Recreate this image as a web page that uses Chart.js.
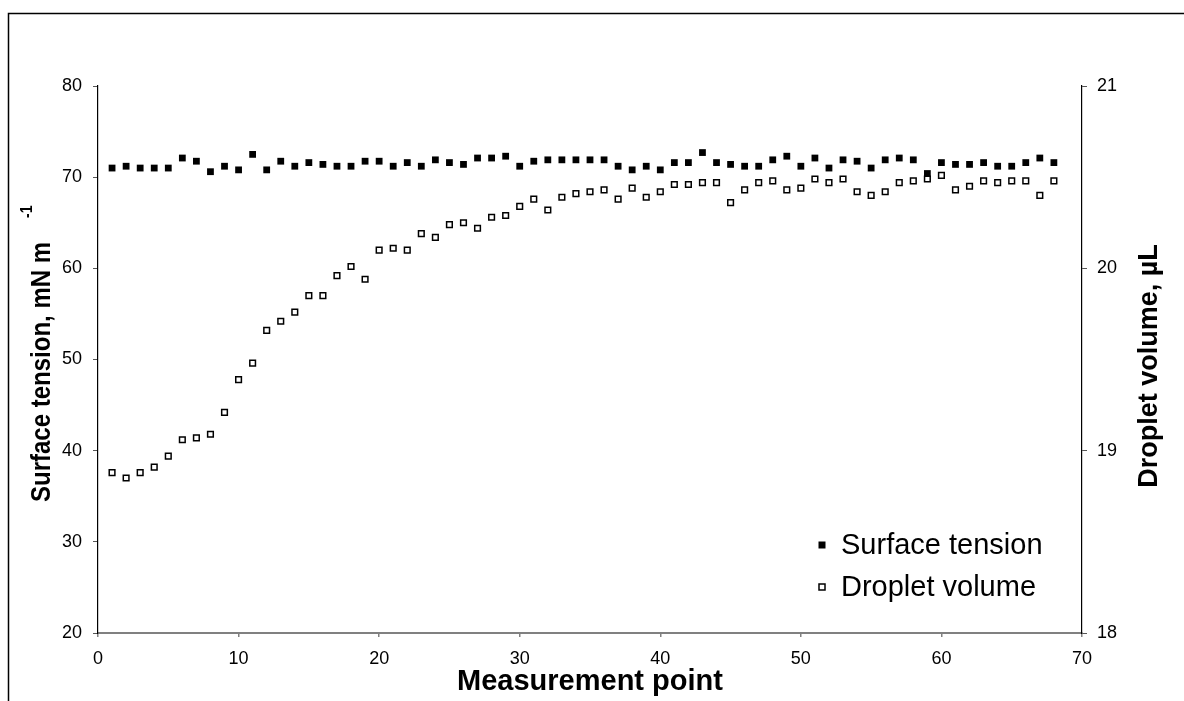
<!DOCTYPE html>
<html>
<head>
<meta charset="utf-8">
<script src="https://cdn.jsdelivr.net/npm/chart.js@4.4.1/dist/chart.umd.min.js"></script>
<style>
  html, body { margin: 0; padding: 0; background: #fff; }
  #wrap { width: 1184px; height: 701px; }
</style>
</head>
<body>
<div id="wrap"><canvas id="grafico" width="1184" height="701"></canvas></div>
<script>
// measurement points (x categories)
const pointNumbers = [1, 2, 3, 4, 5, 6, 7, 8, 9, 10, 11, 12, 13, 14, 15, 16, 17, 18, 19, 20,
    21, 22, 23, 24, 25, 26, 27, 28, 29, 30, 31, 32, 33, 34, 35, 36, 37, 38, 39, 40,
    41, 42, 43, 44, 45, 46, 47, 48, 49, 50, 51, 52, 53, 54, 55, 56, 57, 58, 59, 60,
    61, 62, 63, 64, 65, 66, 67, 68];

// surface tension, mN m-1 (left axis)
const surfaceTension = [71.0, 71.2, 71.0, 71.0, 71.0, 72.1, 71.75, 70.6, 71.2, 70.8,
    72.5, 70.8, 71.75, 71.2, 71.6, 71.4, 71.2, 71.2, 71.75, 71.75,
    71.2, 71.6, 71.2, 71.9, 71.6, 71.4, 72.1, 72.1, 72.3, 71.2,
    71.75, 71.9, 71.9, 71.9, 71.9, 71.9, 71.2, 70.8, 71.2, 70.8,
    71.6, 71.6, 72.7, 71.6, 71.4, 71.2, 71.2, 71.9, 72.3, 71.2,
    72.1, 71.0, 71.9, 71.75, 71.0, 71.9, 72.1, 71.9, 70.4, 71.6,
    71.4, 71.4, 71.6, 71.2, 71.2, 71.6, 72.1, 71.6];

// droplet volume, uL (right axis)
const dropletVolume = [18.88, 18.85, 18.88, 18.91, 18.97, 19.06, 19.07, 19.09, 19.21, 19.39,
    19.48, 19.66, 19.71, 19.76, 19.85, 19.85, 19.96, 20.01, 19.94, 20.10,
    20.11, 20.10, 20.19, 20.17, 20.24, 20.25, 20.22, 20.28, 20.29, 20.34,
    20.38, 20.32, 20.39, 20.41, 20.42, 20.43, 20.38, 20.44, 20.39, 20.42,
    20.46, 20.46, 20.47, 20.47, 20.36, 20.43, 20.47, 20.48, 20.43, 20.44,
    20.49, 20.47, 20.49, 20.42, 20.40, 20.42, 20.47, 20.48, 20.49, 20.51,
    20.43, 20.45, 20.48, 20.47, 20.48, 20.48, 20.40, 20.48];

const seriesNames = ["Surface tension", "Droplet volume"];
const xTitle = "Measurement point";
const yTitle = "Surface tension, mN m";
const yTitleSup = "-1";
const y1Title = "Droplet volume, \u00B5L";

const FONT = "'Liberation Sans', Arial, sans-serif";

// frame, axis titles and legend drawn on the canvas
const decorations = {
    id: "decorations",
    beforeDraw(chart) {
        const ctx = chart.ctx;
        ctx.save();
        ctx.fillStyle = "#fff";
        ctx.fillRect(0, 0, chart.width, chart.height);
        ctx.strokeStyle = "#000";
        ctx.lineWidth = 1.5;
        ctx.beginPath();
        ctx.moveTo(8.5, chart.height + 2);
        ctx.lineTo(8.5, 13.5);
        ctx.lineTo(chart.width + 2, 13.5);
        ctx.stroke();
        ctx.restore();
    },
    afterDraw(chart) {
        const ctx = chart.ctx;
        const area = chart.chartArea;
        ctx.save();
        ctx.fillStyle = "#000";

        // x title
        ctx.font = "bold 29px " + FONT;
        ctx.textAlign = "center";
        ctx.textBaseline = "alphabetic";
        ctx.fillText(xTitle, (area.left + area.right) / 2, 690);

        // left title with superscript
        ctx.save();
        ctx.translate(50, 502);
        ctx.rotate(-Math.PI / 2);
        ctx.scale(1, 1.18);
        ctx.font = "bold 24px " + FONT;
        ctx.textAlign = "left";
        ctx.fillText(yTitle, 0, 0);
        const w = ctx.measureText(yTitle).width;
        ctx.font = "bold 14px " + FONT;
        ctx.fillText(yTitleSup, w + 24, -15);
        ctx.restore();

        // right title
        ctx.save();
        ctx.translate(1157, 366);
        ctx.rotate(-Math.PI / 2);
        ctx.font = "bold 27px " + FONT;
        ctx.textAlign = "center";
        ctx.fillText(y1Title, 0, 0);
        ctx.restore();

        // legend
        ctx.font = "29px " + FONT;
        ctx.textAlign = "left";
        ctx.fillRect(818.5, 541.5, 7, 7);
        ctx.fillText(seriesNames[0], 841, 554);
        ctx.lineWidth = 1.5;
        ctx.strokeStyle = "#000";
        ctx.fillStyle = "#fff";
        ctx.fillRect(819, 584, 6, 6);
        ctx.strokeRect(819, 584, 6, 6);
        ctx.fillStyle = "#000";
        ctx.fillText(seriesNames[1], 841, 596);
        ctx.restore();
    }
};

document.addEventListener("DOMContentLoaded", function () {

    new Chart(document.getElementById("grafico"), {
        type: "scatter",
        data: {
            datasets: [
                {
                    label: seriesNames[0],
                    data: pointNumbers.map((p, i) => ({ x: p, y: surfaceTension[i] })),
                    yAxisID: "y",
                    pointStyle: "rect",
                    pointRadius: 4.8,
                    pointBorderWidth: 0,
                    backgroundColor: "#000",
                    borderColor: "#000"
                },
                {
                    label: seriesNames[1],
                    data: pointNumbers.map((p, i) => ({ x: p, y: dropletVolume[i] })),
                    yAxisID: "y1",
                    pointStyle: "rect",
                    pointRadius: 4,
                    pointBorderWidth: 1.5,
                    backgroundColor: "#fff",
                    borderColor: "#000"
                }
            ]
        },
        options: {
            responsive: false,
            animation: false,
            events: [],
            layout: { padding: { top: 86, left: 0, right: 0, bottom: 0 } },
            plugins: {
                legend: { display: false },
                tooltip: { enabled: false }
            },
            scales: {
                x: {
                    type: "linear",
                    min: 0,
                    max: 70,
                    afterFit: function (s) { s.height = 68; },
                    ticks: { stepSize: 10, color: "#000", padding: 11, font: { family: FONT, size: 18 } },
                    grid: { drawOnChartArea: false, tickLength: 4, color: "#808080", lineWidth: 1.5 },
                    border: { color: "#808080", width: 2 }
                },
                y: {
                    position: "left",
                    min: 20,
                    max: 80,
                    afterFit: function (s) { s.width = 98; },
                    ticks: { stepSize: 10, color: "#000", padding: 11, font: { family: FONT, size: 18 } },
                    grid: { drawOnChartArea: false, tickLength: 5, color: "#555" },
                    border: { color: "#000", width: 1.2 }
                },
                y1: {
                    position: "right",
                    min: 18,
                    max: 21,
                    afterFit: function (s) { s.width = 102; },
                    ticks: { stepSize: 1, color: "#000", padding: 10, font: { family: FONT, size: 18 } },
                    grid: { drawOnChartArea: false, tickLength: 5, color: "#555" },
                    border: { color: "#000", width: 1.2 }
                }
            }
        },
        plugins: [decorations]
    });

});
</script>
</body>
</html>
